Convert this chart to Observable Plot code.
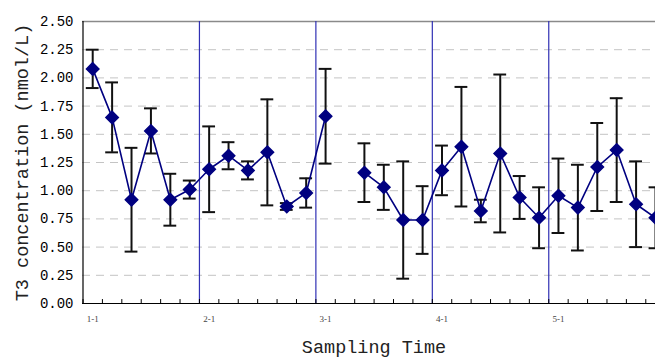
<!DOCTYPE html>
<html>
<head>
<meta charset="utf-8">
<script src="https://cdn.jsdelivr.net/npm/d3@7"></script>
<script src="https://cdn.jsdelivr.net/npm/@observablehq/plot@0.6"></script>
<style>
  html, body { margin: 0; padding: 0; background: #fff; }
  #chart svg { display: block; }
</style>
</head>
<body>
<div id="chart"></div>
<script>
// Sampling labels (group-day)
const sampleLabels = [
  "1-1","1-2","1-3","1-4","1-5","1-6",
  "2-1","2-2","2-3","2-4","2-5","2-6",
  "3-1","3-2","3-3","3-4","3-5","3-6",
  "4-1","4-2","4-3","4-4","4-5","4-6",
  "5-1","5-2","5-3","5-4","5-5","5-6"
];
// Mean T3 concentration (nmol/L); null = missing sample
const means = [
  2.08, 1.65, 0.92, 1.53, 0.92, 1.01,
  1.19, 1.31, 1.18, 1.34, 0.86, 0.98,
  1.66, null, 1.16, 1.03, 0.74, 0.74,
  1.18, 1.39, 0.82, 1.33, 0.94, 0.76,
  0.955, 0.85, 1.21, 1.36, 0.88, 0.76
];
// Standard deviations (error bar half-length)
const sds = [
  0.17, 0.31, 0.46, 0.20, 0.23, 0.08,
  0.38, 0.12, 0.08, 0.47, 0.03, 0.13,
  0.42, null, 0.26, 0.20, 0.52, 0.30,
  0.22, 0.53, 0.10, 0.70, 0.19, 0.27,
  0.33, 0.38, 0.39, 0.46, 0.38, 0.27
];
const yTicks = [0, 0.25, 0.5, 0.75, 1.0, 1.25, 1.5, 1.75, 2.0, 2.25, 2.5];
const yTitle = "T3 concentration (nmol/L)";
const xTitle = "Sampling Time";

const data = sampleLabels.map((s, i) => ({i, s, mean: means[i], sd: sds[i]}));
const valid = data.filter(d => d.mean != null);
const groupStarts = data.filter(d => d.s.endsWith("-1")).map(d => d.i);
const separators = groupStarts.filter(i => i > 0).map(i => i - 0.5);
const boundaries = data.map(d => d.i - 0.5).concat([data.length - 0.5]);

const font = "'Courier New', 'Liberation Mono', monospace";

const chart = Plot.plot({
  width: 655,
  height: 357,
  marginLeft: 82,
  marginRight: 0,
  marginTop: 21,
  marginBottom: 54,
  style: {fontFamily: font, background: "#fff", color: "#000"},
  x: {domain: [-0.5, sampleLabels.length - 0.5], range: [82.5, 664.7]},
  y: {domain: [0, 2.5]},
  marks: [
    Plot.ruleY(yTicks.filter(v => v > 0 && v < 2.5), {stroke: "#c4c4c4", strokeWidth: 1, strokeDasharray: "8,6"}),
    Plot.ruleY([2.5], {stroke: "#8a8a8a", strokeWidth: 1.5}),
    Plot.ruleX(separators, {stroke: "#3030b4", strokeWidth: 1.2}),
    Plot.ruleX([-0.5], {stroke: "#000", strokeWidth: 1.2}),
    Plot.ruleY([0], {stroke: "#000", strokeWidth: 1.2}),
    Plot.ruleX(boundaries, {y1: 0, y2: 0.035, stroke: "#000", strokeWidth: 1}),
    Plot.axisY({ticks: yTicks, tickFormat: d3.format(".2f"), tickSize: 0, tickPadding: 9, fontSize: 14, fontFamily: font, label: null}),
    Plot.axisX({ticks: groupStarts, tickFormat: i => sampleLabels[i], tickSize: 0, tickPadding: 12, fontSize: 9, fill: "#444", fontFamily: "'Liberation Serif', serif", label: null}),
    Plot.ruleX(valid, {x: "i", y1: d => d.mean - d.sd, y2: d => d.mean + d.sd, stroke: "#111", strokeWidth: 2}),
    Plot.ruleY(valid, {y: d => d.mean + d.sd, x1: d => d.i - 0.33, x2: d => d.i + 0.33, stroke: "#111", strokeWidth: 2}),
    Plot.ruleY(valid, {y: d => d.mean - d.sd, x1: d => d.i - 0.33, x2: d => d.i + 0.33, stroke: "#111", strokeWidth: 2}),
    Plot.line(data, {x: "i", y: "mean", stroke: "#000080", strokeWidth: 1.6}),
    Plot.dot(valid, {x: "i", y: "mean", symbol: "diamond2", r: 5.6, fill: "#000080", stroke: "#000080"}),
    Plot.text([yTitle], {frameAnchor: "left", textAnchor: "middle", rotate: -90, dx: -60, fontSize: 18.5, fontFamily: font, fill: "#222"}),
    Plot.text([xTitle], {frameAnchor: "bottom", textAnchor: "middle", dy: 49, dx: 5, fontSize: 18.5, fontFamily: font, fill: "#222"})
  ]
});
document.getElementById("chart").appendChild(chart);
</script>
</body>
</html>
